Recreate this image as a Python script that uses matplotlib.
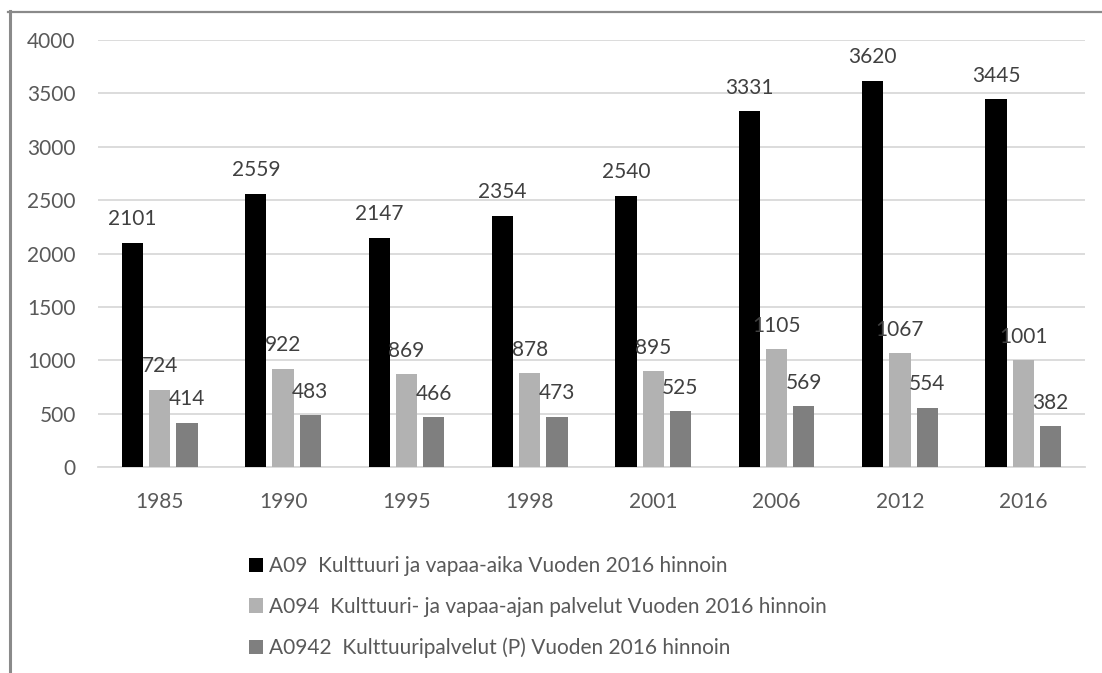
import numpy as np
import matplotlib
matplotlib.use('Agg')
import matplotlib.pyplot as plt
from matplotlib.lines import Line2D

plt.rcParams['font.family'] = ['Lato', 'DejaVu Sans']

# data
years = ['1985', '1990', '1995', '1998', '2001', '2006', '2012', '2016']
a09 = [2101, 2559, 2147, 2354, 2540, 3331, 3620, 3445]
a094 = [724, 922, 869, 878, 895, 1105, 1067, 1001]
a0942 = [414, 483, 466, 473, 525, 569, 554, 382]
series_names = ['A09  Kulttuuri ja vapaa-aika Vuoden 2016 hinnoin',
                'A094  Kulttuuri- ja vapaa-ajan palvelut Vuoden 2016 hinnoin',
                'A0942  Kulttuuripalvelut (P) Vuoden 2016 hinnoin']
colors = ['#000000', '#b2b2b2', '#7f7f7f']

W, H = 1102, 673
fig = plt.figure(figsize=(W / 100, H / 100), dpi=100)
ax = fig.add_axes([98 / W, 1 - 467 / H, (1085 - 98) / W, (467 - 40) / H])

x = np.arange(len(years))
step = 0.221
width = 0.172
fs = 15
for i, (vals, c, name) in enumerate(zip([a09, a094, a0942], colors, series_names)):
    pos = x + (i - 1) * step
    ax.bar(pos, vals, width=width, color=c, label=name, zorder=3)
    for p, v in zip(pos, vals):
        ax.annotate(str(v), (p, v), xytext=(0, 12.5), textcoords='offset points',
                    ha='center', va='baseline', fontsize=fs, color='#404040', zorder=4)

ax.set_xlim(-0.5, len(years) - 0.5)
ax.set_ylim(0, 4000)
ax.set_yticks(range(0, 4001, 500))
ax.set_xticks(x)
ax.set_xticklabels(years)
ax.tick_params(axis='both', length=0, labelsize=fs, labelcolor='#595959')
ax.tick_params(axis='y', pad=16)
ax.tick_params(axis='x', pad=18)
ax.grid(axis='y', color='#d9d9d9', lw=1.3, zorder=0)
for s in ['top', 'right', 'left']:
    ax.spines[s].set_visible(False)
ax.spines['bottom'].set_color('#d9d9d9')
ax.spines['bottom'].set_linewidth(1.3)

fig.legend(loc='upper left', bbox_to_anchor=(249 / W, 1 - 556 / H),
           frameon=False, fontsize=fs, labelcolor='#595959',
           handlelength=0.68, handleheight=0.68, handletextpad=0.3,
           labelspacing=1.0, borderpad=0, borderaxespad=0)

# outer chart frame (cropped)
fig.add_artist(Line2D([9.5 / W, 9.5 / W], [0, 1 - 11 / H], transform=fig.transFigure,
                      color='#8a8a8a', lw=2.2))
fig.add_artist(Line2D([8 / W, 1], [1 - 12 / H, 1 - 12 / H], transform=fig.transFigure,
                      color='#8a8a8a', lw=1.6))

fig.savefig('out.png', dpi=100)
